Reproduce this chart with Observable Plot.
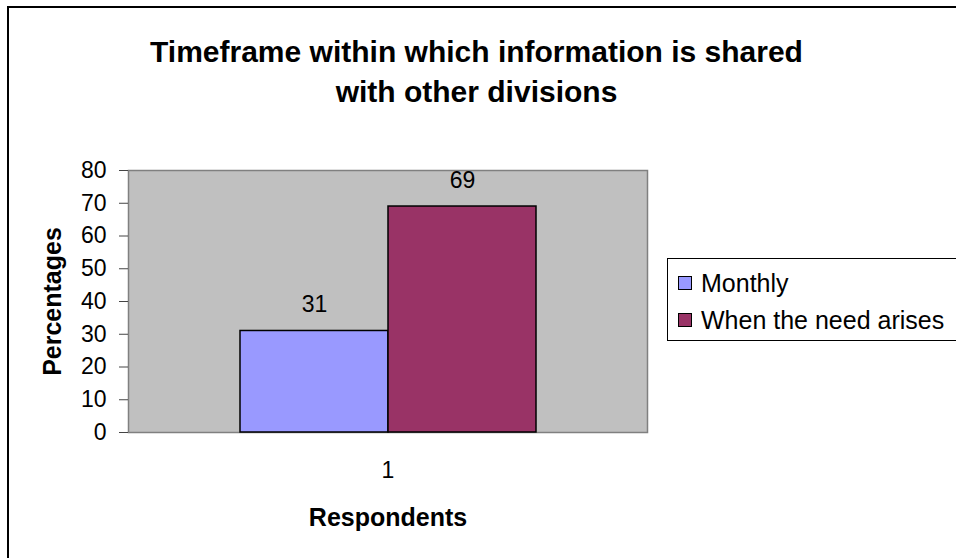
<!DOCTYPE html>
<html>
<head>
<meta charset="utf-8">
<script src="https://cdn.jsdelivr.net/npm/d3@7"></script>
<script src="https://cdn.jsdelivr.net/npm/@observablehq/plot@0.6"></script>
<style>
  html, body { margin: 0; padding: 0; background: #fff; overflow: hidden; }
  #wrap { position: relative; width: 956px; height: 558px; font-family: "Liberation Sans", Arial, sans-serif; }
  #border { position: absolute; left: 7px; top: 6px; width: 1000px; height: 600px; border: 2px solid #000; box-sizing: border-box; }
  #title { position: absolute; left: 0; width: 953px; top: 32px; text-align: center; font-weight: bold; font-size: 30px; line-height: 40px; color: #000; }
  #legend { position: absolute; left: 667px; top: 258px; width: 320px; height: 83px; border: 1px solid #000; background: #fff; box-sizing: border-box; font-size: 25px; }
  .item { position: absolute; left: 10px; height: 26px; display: flex; align-items: center; white-space: nowrap; }
  .sw { width: 12px; height: 12px; border: 1px solid #000; margin-right: 9px; flex: none; }
  #chart { position: absolute; left: 0; top: 0; }
</style>
</head>
<body>
<div id="wrap">
  <div id="border"></div>
  <div id="chart"></div>
  <div id="title">Timeframe within which information is shared<br>with other divisions</div>
  <div id="legend"></div>
</div>
<script>
const respondents = ["1"];
const series = ["Monthly", "When the need arises"];
const values = [31, 69];
const colors = ["#9999FF", "#993366"];
const yTicks = [0, 10, 20, 30, 40, 50, 60, 70, 80];

const data = series.map((s, i) => ({resp: respondents[0], series: s, value: values[i]}));

const chart = Plot.plot({
  width: 956,
  height: 558,
  marginLeft: 128,
  marginRight: 309,
  marginTop: 170,
  marginBottom: 126,
  style: {fontFamily: "'Liberation Sans', Arial, sans-serif", fontSize: "23px", background: "transparent", color: "#000"},
  fx: {domain: respondents, padding: 0, axis: null},
  x: {domain: series, paddingInner: 0, paddingOuter: 0.7475, axis: null},
  y: {domain: [0, 80], axis: null},
  color: {domain: series, range: colors},
  marks: [
    Plot.frame({fill: "#C0C0C0", stroke: "#808080", strokeWidth: 1.5}),
    Plot.barY(data, {fx: "resp", x: "series", y: "value", fill: "series", stroke: "#000", strokeWidth: 1.5}),
    Plot.text(data, {fx: "resp", x: "series", y: "value", text: d => String(d.value), dy: -26, fontSize: 23}),
    Plot.axisY({ticks: yTicks, tickSize: 9, tickPadding: 13, label: null, stroke: "#444", fontSize: 23}),
    Plot.axisFx({anchor: "bottom", tickSize: 0, tickPadding: 29, label: null, fontSize: 23}),
    Plot.text(["Percentages"], {frameAnchor: "left", textAnchor: "middle", lineAnchor: "middle", rotate: -90, dx: -76, fontWeight: "bold", fontSize: 25}),
    Plot.text(["Respondents"], {frameAnchor: "bottom", textAnchor: "middle", lineAnchor: "middle", dy: 85, fontWeight: "bold", fontSize: 25})
  ]
});
document.getElementById("chart").appendChild(chart);

const legend = document.getElementById("legend");
series.forEach((s, i) => {
  const it = document.createElement("div");
  it.className = "item";
  it.style.top = (i === 0 ? 11 : 48) + "px";
  it.innerHTML = `<span class="sw" style="background:${colors[i]}"></span><span>${s}</span>`;
  legend.appendChild(it);
});
</script>
</body>
</html>
